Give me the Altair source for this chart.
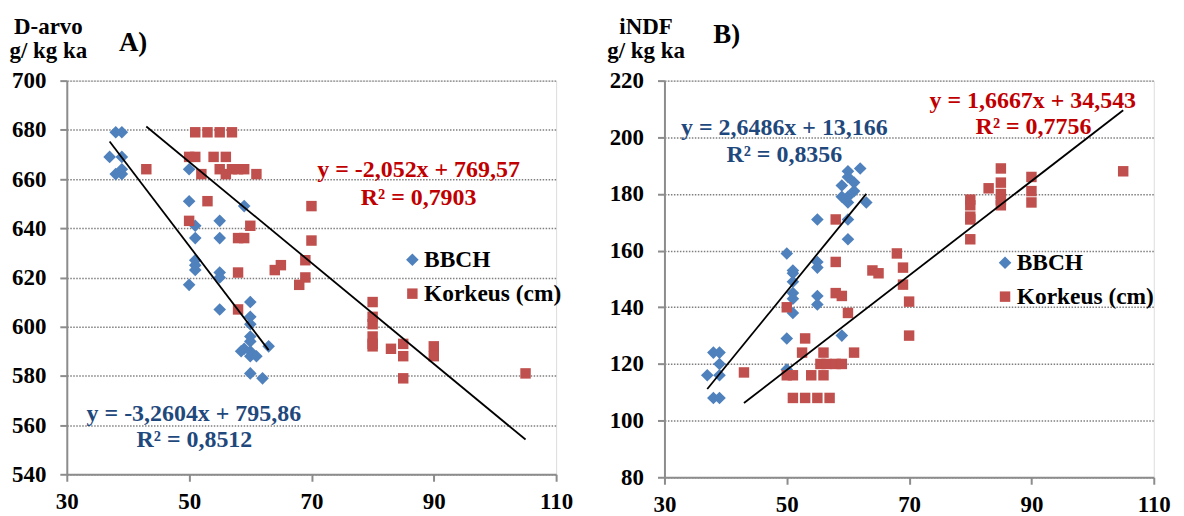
import altair as alt
import pandas as pd

FONT = "Liberation Serif"
BLUE = "#4F81BD"
RED = "#C0504D"
BLUE_TXT = "#1F497D"
RED_TXT = "#C00000"
SERIES = ["BBCH", "Korkeus (cm)"]
X_TICKS = [30, 50, 70, 90, 110]

# ---------------- Panel A: D-arvo ----------------
a_bbch_x = [38, 39, 37, 39, 39, 38, 39, 50, 50, 59, 51, 55, 51, 55, 51, 51, 51, 55, 55, 50,
            60, 55, 60, 60, 60, 60, 59, 58.5, 60, 60, 61, 63, 60, 62]
a_bbch_y = [679, 679, 669, 669, 664, 662, 662, 664, 651, 649, 641, 643, 636, 636, 627, 625, 623, 622, 620, 617,
            610, 607, 604, 601, 596, 594, 591, 590, 590, 588, 588, 592, 581, 579]
a_kork_x = [51, 53, 55, 57, 50, 51, 54, 56, 43, 52, 55, 57, 58, 59, 56, 61, 53, 70, 50, 60, 58, 59, 70, 69,
            65, 64, 58, 69, 68, 58, 80, 80, 80, 80, 80, 80, 83, 85, 85, 85, 90, 90, 105]
a_kork_y = [679, 679, 679, 679, 669, 669, 669, 669, 664, 662, 664, 664, 664, 664, 662, 662, 651, 649, 643, 641,
            636, 636, 635, 627, 625, 623, 622, 620, 617, 607, 610, 604, 601, 596, 593, 592, 591, 593, 588,
            579, 592, 588, 581]
a_fit = {"BBCH": (-3.2604, 795.86), "Korkeus (cm)": (-2.052, 769.57)}
a_eq = {"BBCH": ["y = -3,2604x + 795,86", "R² = 0,8512"],
        "Korkeus (cm)": ["y = -2,052x + 769,57", "R² = 0,7903"]}

# ---------------- Panel B: iNDF ----------------
b_bbch_x = [38, 39, 39, 37, 39, 38, 39, 50, 50, 51, 51, 51, 51, 51, 51, 55, 55, 55, 55, 50, 55, 59,
            60, 60, 60, 60, 63, 59, 61, 59, 61, 60, 60, 62]
b_bbch_y = [124, 124, 120, 116, 116, 108, 108, 118, 129, 138, 143, 145, 149, 152, 153, 144, 141, 154, 156, 159,
            171, 130, 164, 171, 177, 179, 177, 179, 181, 183, 184, 186, 188, 189]
b_kork_x = [43, 50, 51, 54, 56, 51, 53, 55, 57, 50, 52.5, 53, 56, 61, 55.5, 56.5, 58, 59, 58, 59, 60, 58,
            58, 64, 65, 68, 69, 69, 70, 70, 80, 80, 80, 80, 80, 83, 85, 85, 85, 85, 85, 90, 90, 90, 105]
b_kork_y = [117, 116, 116, 116, 116, 108, 108, 108, 108, 140, 124, 129, 124, 124, 120, 120, 120, 120, 145, 144,
            138, 156, 171, 153, 152, 159, 154, 148, 142, 130, 178, 176, 172, 171, 164, 182, 189, 184, 180,
            178, 176, 186, 181, 177, 188]
b_fit = {"BBCH": (2.6486, 13.166), "Korkeus (cm)": (1.6667, 34.543)}
b_eq = {"BBCH": ["y = 2,6486x + 13,166", "R² = 0,8356"],
        "Korkeus (cm)": ["y = 1,6667x + 34,543", "R² = 0,7756"]}


def points_df(bx, by, kx, ky):
    return pd.DataFrame({
        "x": bx + kx,
        "y": by + ky,
        "series": [SERIES[0]] * len(bx) + [SERIES[1]] * len(kx),
    })


def fit_df(pts, fit):
    rows = []
    for s in SERIES:
        xs = pts.loc[pts.series == s, "x"]
        m, b = fit[s]
        for xv in (xs.min(), xs.max()):
            rows.append({"x": xv, "y": m * xv + b, "series": s})
    return pd.DataFrame(rows)


def text_layer(txt, px, py, color, size=24):
    return alt.Chart(pd.DataFrame({"t": [txt]})).mark_text(
        font=FONT, fontSize=size, fontWeight="bold", color=color,
        align="center", baseline="alphabetic"
    ).encode(text="t:N", x=alt.value(px), y=alt.value(py))


def panel(pts, fit, ydom, yticks, ytitle, legend_xy, w, h, texts):
    legend = alt.Legend(
        orient="none", legendX=legend_xy[0], legendY=legend_xy[1], title=None,
        labelFont=FONT, labelFontSize=23.5, labelFontWeight="bold", labelColor="black",
        symbolSize=100, rowPadding=9, labelOffset=0, padding=0, symbolStrokeWidth=0,
    )
    xax = alt.Axis(values=X_TICKS, title=None, grid=False, labelFlush=False,
                   labelFont=FONT, labelFontSize=23, labelFontWeight="bold", labelColor="black",
                   tickSize=7, labelPadding=9, domainColor="#8C8C8C", tickColor="#8C8C8C",
                   domainWidth=2, tickWidth=2)
    yax = alt.Axis(values=yticks, title=ytitle, titleAngle=0, titleAlign="center",
                   titleBaseline="alphabetic", titleX=-19, titleY=-47, titleLineHeight=24,
                   titleFont=FONT, titleFontSize=23, titleFontWeight="bold", titleColor="black",
                   labelFont=FONT, labelFontSize=23, labelFontWeight="bold", labelColor="black",
                   tickSize=7, labelPadding=14, domainColor="#8C8C8C", tickColor="#8C8C8C",
                   domainWidth=2, tickWidth=2, grid=True, gridDash=[1.5, 1.5],
                   gridColor="#7F7F7F", gridWidth=1.5, labelOverlap=False)
    xs = alt.Scale(domain=[30, 110], nice=False, zero=False)
    ys = alt.Scale(domain=ydom, nice=False, zero=False)
    pts_layer = alt.Chart(pts).mark_point(filled=True, opacity=1, strokeWidth=0).encode(
        x=alt.X("x:Q", scale=xs, axis=xax),
        y=alt.Y("y:Q", scale=ys, axis=yax),
        color=alt.Color("series:N", scale=alt.Scale(domain=SERIES, range=[BLUE, RED]), legend=legend),
        shape=alt.Shape("series:N", scale=alt.Scale(domain=SERIES, range=["diamond", "square"]), legend=legend),
        size=alt.Size("series:N", scale=alt.Scale(domain=SERIES, range=[160, 110]), legend=None),
    )
    line_layer = alt.Chart(fit_df(pts, fit)).mark_line(color="black", strokeWidth=1.8).encode(
        x=alt.X("x:Q", scale=xs), y=alt.Y("y:Q", scale=ys), detail="series:N"
    )
    return alt.layer(pts_layer, line_layer, *texts).properties(width=w, height=h)


a_pts = points_df(a_bbch_x, a_bbch_y, a_kork_x, a_kork_y)
b_pts = points_df(b_bbch_x, b_bbch_y, b_kork_x, b_kork_y)

left = panel(
    a_pts, a_fit, [540, 700], list(range(540, 701, 20)), ["D-arvo", "g/ kg ka"], (335, 168), 491, 395,
    [
        text_layer(a_eq["Korkeus (cm)"][0], 353, 97, RED_TXT),
        text_layer(a_eq["Korkeus (cm)"][1], 353, 125, RED_TXT),
        text_layer(a_eq["BBCH"][0], 127.5, 342, BLUE_TXT),
        text_layer(a_eq["BBCH"][1], 128, 368, BLUE_TXT),
        text_layer("A)", 66.5, -30, "black", 27),
    ],
)
right = panel(
    b_pts, b_fit, [80, 220], list(range(80, 221, 20)), ["iNDF", "g/ kg ka"], (330, 171), 491, 398,
    [
        text_layer(b_eq["BBCH"][0], 120.3, 54.3, BLUE_TXT),
        text_layer(b_eq["BBCH"][1], 120.3, 82, BLUE_TXT),
        text_layer(b_eq["Korkeus (cm)"][0], 369.6, 27.7, RED_TXT),
        text_layer(b_eq["Korkeus (cm)"][1], 370.3, 53.7, RED_TXT),
        text_layer("B)", 62.5, -38, "black", 27),
    ],
)

chart = alt.hconcat(left, right, spacing=108.7, bounds="flush").resolve_scale(
    color="independent", shape="independent", size="independent"
).resolve_legend(color="independent", shape="independent").properties(
    padding={"left": 0, "top": 6, "right": 5, "bottom": 0},
    autosize=alt.AutoSizeParams(type="pad"),
).configure_view(stroke=None).configure(font=FONT)

chart.save("out.html", embed_options={"renderer": "svg", "actions": False})
